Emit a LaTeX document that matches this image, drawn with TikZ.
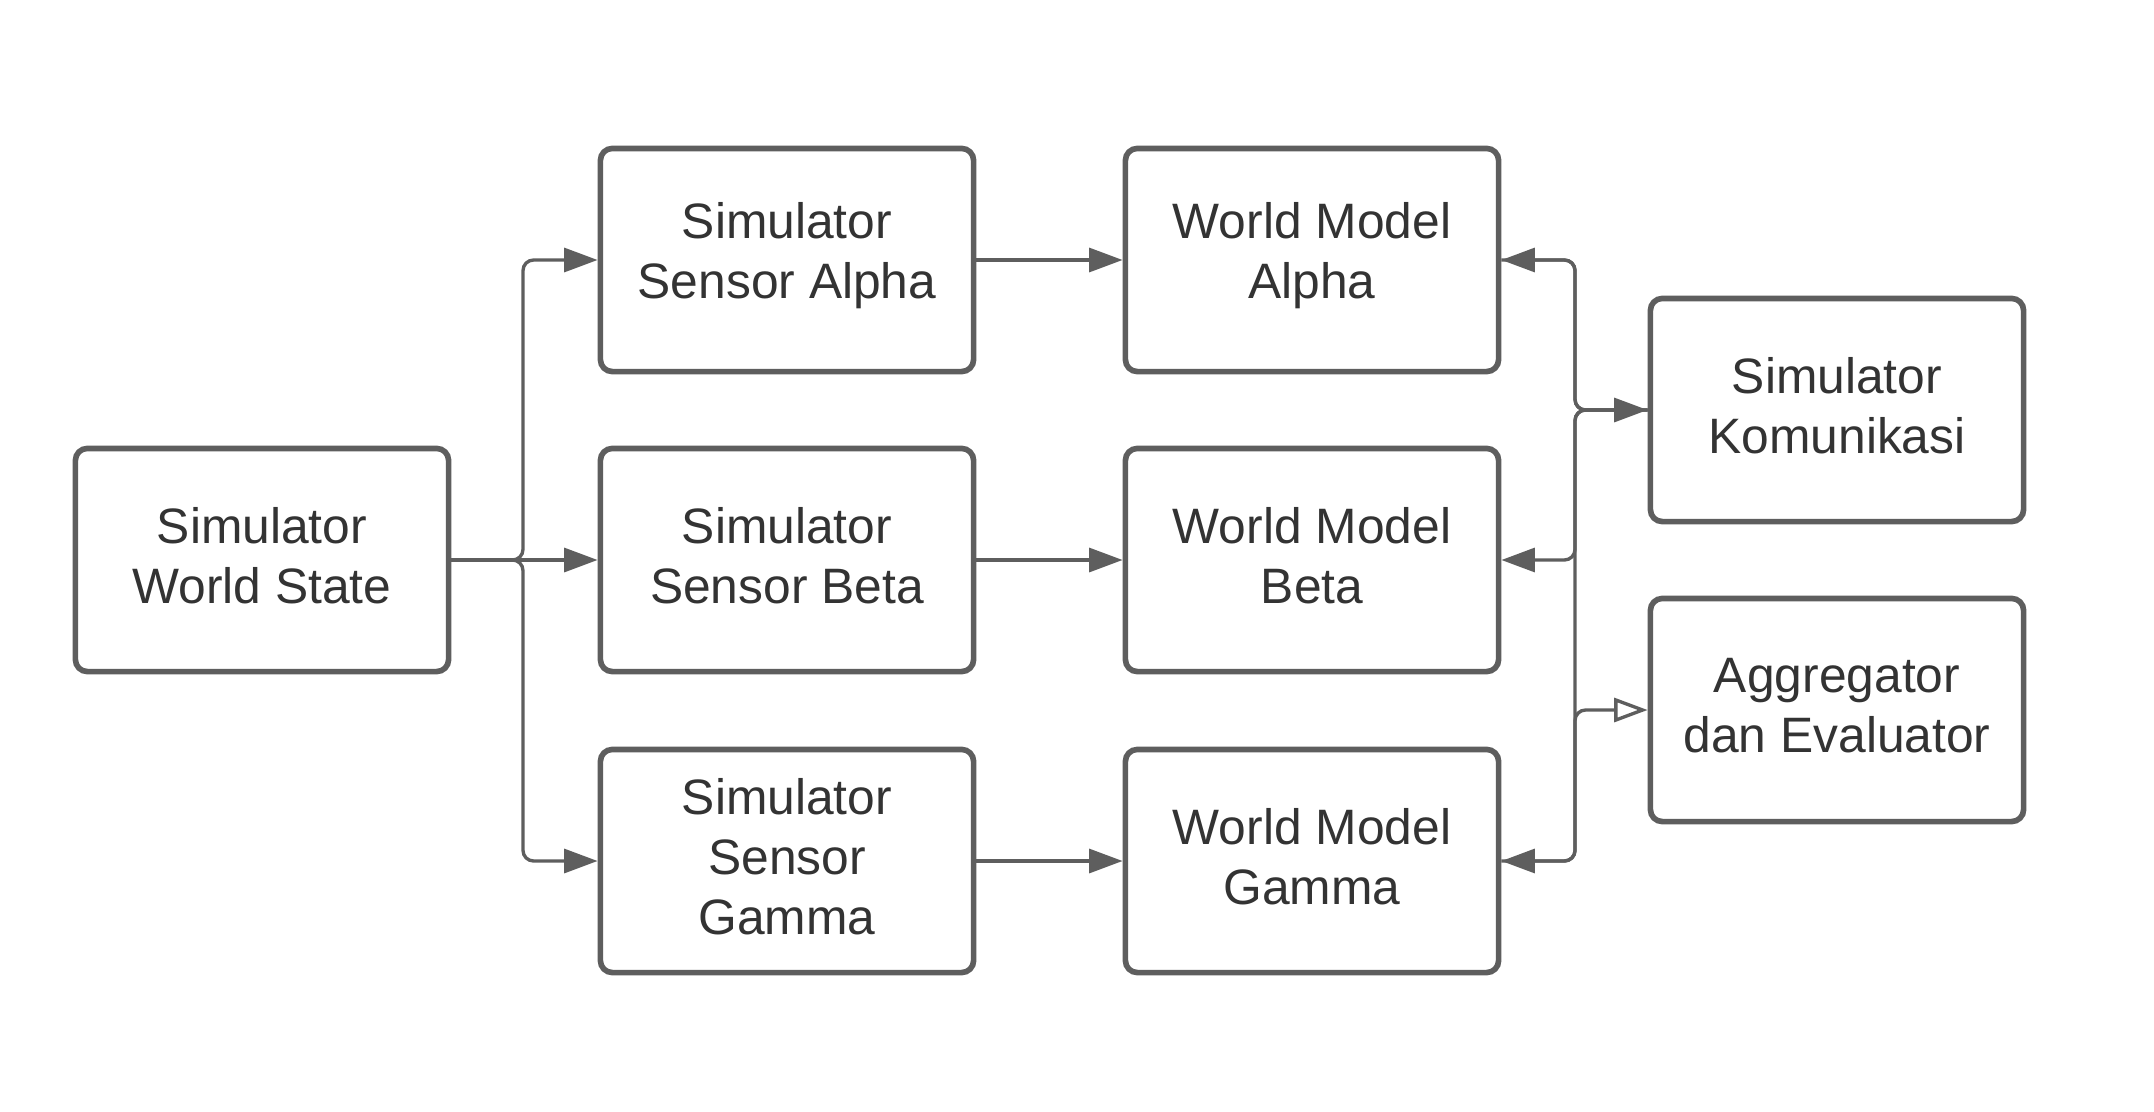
\documentclass[tikz,border=0pt]{standalone}
\usepackage{fontspec}
\setmainfont{Liberation Sans}
\usetikzlibrary{arrows.meta}
\definecolor{ln}{HTML}{5E5E5E}
\definecolor{tx}{HTML}{333333}
\begin{document}
\begin{tikzpicture}[x=0.01cm,y=-0.01cm,
  box/.style={draw=ln, line width=1.6pt, rounded corners=3.4pt, minimum width=3.73cm, minimum height=2.23cm,
    inner sep=0pt, fill=white},
  txt/.style={align=center, text=tx, font=\fontsize{14.15}{17}\selectfont, inner sep=0pt, yshift=1.2pt},
  conn/.style={draw=ln, line width=0.95pt, rounded corners=3pt},
  arr/.style={-{Triangle[length=9.5pt,width=6.8pt]}},
  openarr/.style={-{Triangle[open,fill=white,length=9.5pt,width=6.8pt]}}]
\useasboundingbox[fill=white] (0,0) rectangle (2154,1112);
\node[box, label={[txt]center:Simulator\\World State}]    (WS)  at (262,560)  {};
\node[box, label={[txt]center:Simulator\\Sensor Alpha}]   (SA)  at (787,260)  {};
\node[box, label={[txt]center:Simulator\\Sensor Beta}]    (SB)  at (787,560)  {};
\node[box, label={[txt]center:Simulator\\Sensor\\Gamma}]  (SG)  at (787,861)  {};
\node[box, label={[txt]center:World Model\\Alpha}]        (WMA) at (1312,260) {};
\node[box, label={[txt]center:World Model\\Beta}]         (WMB) at (1312,560) {};
\node[box, label={[txt]center:World Model\\Gamma}]        (WMC) at (1312,861) {};
\node[box, label={[txt]center:Simulator\\Komunikasi}]     (KOM) at (1837,410) {};
\node[box, label={[txt]center:Aggregator\\dan Evaluator}] (AGG) at (1837,710) {};
\coordinate (jl) at (523,560);
\coordinate (jr) at (1575,560);
% left fan-out
\draw[conn,arr] (WS.east) -- (jl) |- (SA.west);
\draw[conn,arr] (WS.east) -- (SB.west);
\draw[conn,arr] (WS.east) -- (jl) |- (SG.west);
% sensors to world models
\draw[conn,arr] (SA.east) -- (WMA.west);
\draw[conn,arr] (SB.east) -- (WMB.west);
\draw[conn,arr] (SG.east) -- (WMC.west);
% right bus
\draw[conn,arr] (KOM.west) -- (KOM.west -| jr) |- (WMA.east);
\draw[conn,arr] (KOM.west) -- (KOM.west -| jr) |- (WMB.east);
\draw[conn,arr] (KOM.west) -- (KOM.west -| jr) |- (WMC.east);
\draw[conn,arr] (WMA.east) -- (WMA.east -| jr) |- (KOM.west);
\draw[conn,openarr] (WMC.east) -- (WMC.east -| jr) |- (AGG.west);
\end{tikzpicture}
\end{document}
